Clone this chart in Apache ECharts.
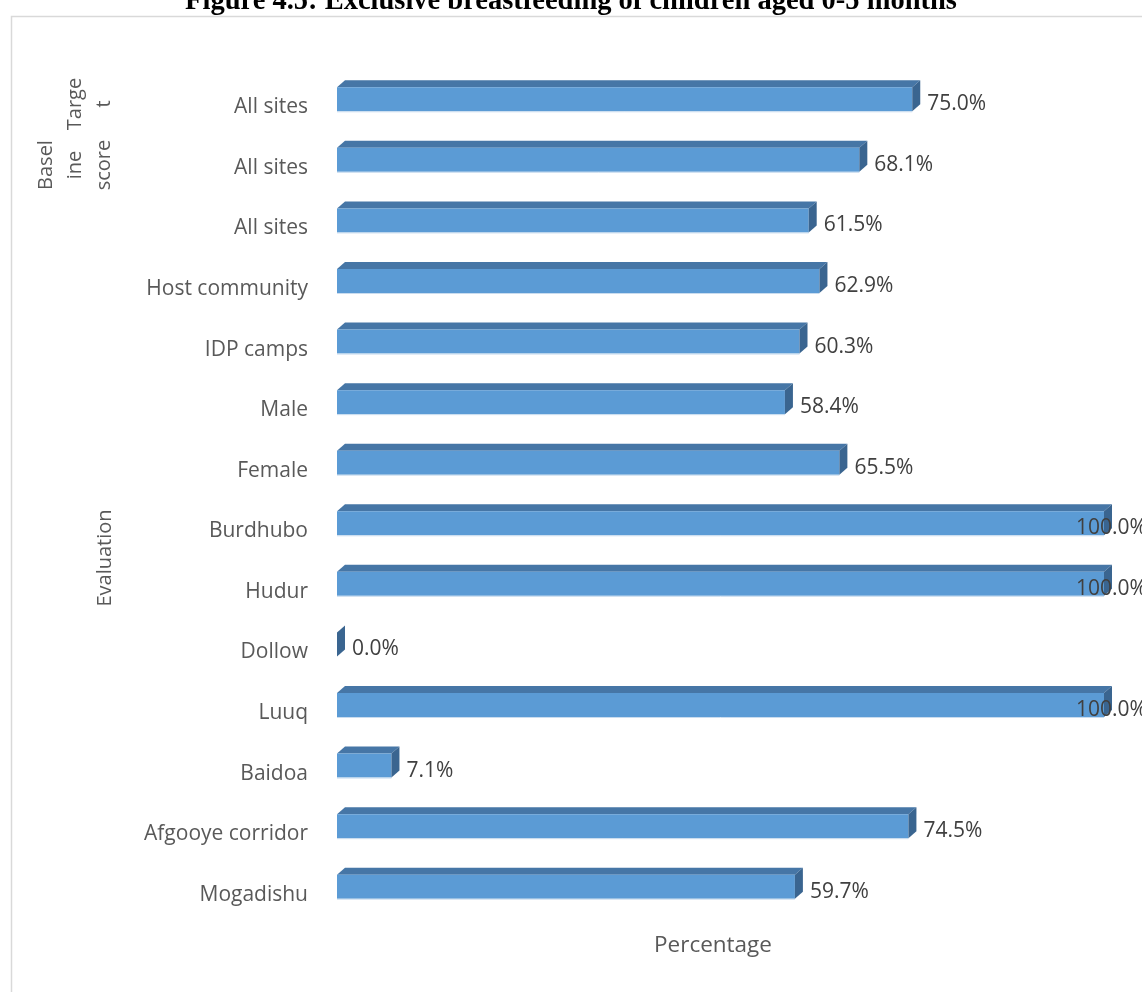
<!DOCTYPE html>
<html>
<head>
<meta charset="utf-8">
<style>
  html, body { margin: 0; padding: 0; background: #ffffff; }
  #chart { width: 1142px; height: 992px; }
</style>
<script src="https://cdn.jsdelivr.net/npm/echarts@6/dist/echarts.min.js"></script>
</head>
<body>
<div id="chart"></div>
<script>
// Categories, top to bottom
const categories = [
  'All sites', 'All sites', 'All sites',
  'Host community', 'IDP camps', 'Male', 'Female',
  'Burdhubo', 'Hudur', 'Dollow', 'Luuq', 'Baidoa',
  'Afgooye corridor', 'Mogadishu'
];
// Exclusive breastfeeding rate (%)
const values = [75.0, 68.1, 61.5, 62.9, 60.3, 58.4, 65.5, 100.0, 100.0, 0.0, 100.0, 7.1, 74.5, 59.7];
// Outer category group labels (Target, Baseline score, Evaluation)
const groupLabels = ['Targe\nt', 'Basel\nine\nscore', 'Evaluation'];

const chart = echarts.init(document.getElementById('chart'), null, { renderer: 'canvas' });

const FONT = '"Open Sans", "Noto Sans", sans-serif';
const FRONT = '#5b9bd5', TOP = '#4676a6', SIDE = '#3a6590';
const DX = 8, DY = 7;               // depth of the 3D bar
const FACE_UP = 20, FACE_DOWN = 4;  // front face extent around the category centre

function renderBar(params, api) {
  const v = api.value(0);
  const idx = api.value(1);
  const p0 = api.coord([0, idx]);
  const p1 = api.coord([v, idx]);
  const cs = params.coordSys;
  const x0 = p0[0], x1 = p1[0], cy = p0[1];
  const yt = cy - FACE_UP, yb = cy + FACE_DOWN;
  const children = [];
  if (x1 - x0 > 0.5) {
    children.push({
      type: 'polygon',
      shape: { points: [[x0, yt], [x0 + DX, yt - DY], [x1 + DX, yt - DY], [x1, yt]] },
      style: { fill: TOP }
    });
    children.push({
      type: 'rect',
      shape: { x: x0, y: yt, width: x1 - x0, height: yb - yt },
      style: { fill: FRONT }
    });
    children.push({
      type: 'line',
      shape: { x1: x0, y1: yb + 0.5, x2: x1, y2: yb + 0.5 },
      style: { stroke: '#c9dcef', lineWidth: 1 }
    });
  }
  children.push({
    type: 'polygon',
    shape: { points: [[x1, yt], [x1 + DX, yt - DY], [x1 + DX, yb - DY], [x1, yb]] },
    style: { fill: SIDE }
  });
  // value label sits right of the bar, pulled inside when it would leave the plot
  const plotRight = cs.x + cs.width;
  const lx = Math.min(x1 + DX + 7, plotRight - 28);
  children.push({
    type: 'text',
    x: lx,
    y: cy - 3,
    z2: 10,
    style: {
      text: v.toFixed(1) + '%',
      fill: '#404040',
      font: '21px ' + FONT,
      align: 'left',
      verticalAlign: 'middle'
    }
  });
  return { type: 'group', children: children };
}

const option = {
  backgroundColor: '#ffffff',
  animation: false,
  grid: { left: 337, right: 38, top: 77, bottom: 67, containLabel: false },
  xAxis: {
    type: 'value', min: 0, max: 100,
    axisLine: { show: false }, axisTick: { show: false },
    axisLabel: { show: false }, splitLine: { show: false }
  },
  yAxis: {
    type: 'category',
    data: categories,
    inverse: true,
    axisLine: { show: false }, axisTick: { show: false },
    splitLine: { show: false },
    axisLabel: { margin: 29, color: '#595959', fontSize: 21, fontFamily: FONT }
  },
  series: [{
    type: 'custom',
    renderItem: renderBar,
    encode: { x: 0, y: 1 },
    data: values.map((v, i) => [v, i]),
    clip: false
  }],
  graphic: [
    // chart frame
    {
      type: 'polyline',
      shape: { points: [[11.5, 1000], [11.5, 16.5], [1150, 16.5]] },
      style: { stroke: '#d9d9d9', lineWidth: 1.5, fill: null }
    },
    {
      type: 'text', x: 571, y: 2,
      style: {
        text: 'Figure 4.5: Exclusive breastfeeding of children aged 0-5 months',
        font: 'bold 28.5px "Liberation Serif", "DejaVu Serif", serif',
        fill: '#000000', align: 'center', verticalAlign: 'middle'
      }
    },
    {
      type: 'text', x: 90, y: 104, rotation: Math.PI / 2,
      style: { text: groupLabels[0], font: '20px ' + FONT, fill: '#595959',
        align: 'center', verticalAlign: 'middle', lineHeight: 29 }
    },
    {
      type: 'text', x: 75, y: 165, rotation: Math.PI / 2,
      style: { text: groupLabels[1], font: '20px ' + FONT, fill: '#595959',
        align: 'center', verticalAlign: 'middle', lineHeight: 29 }
    },
    {
      type: 'text', x: 105, y: 558, rotation: Math.PI / 2,
      style: { text: groupLabels[2], font: '20px ' + FONT, fill: '#595959',
        align: 'center', verticalAlign: 'middle' }
    },
    {
      type: 'text', x: 713, y: 946,
      style: { text: 'Percentage', font: '22.5px ' + FONT, fill: '#595959',
        align: 'center', verticalAlign: 'middle' }
    }
  ]
};

chart.setOption(option);
</script>
</body>
</html>
